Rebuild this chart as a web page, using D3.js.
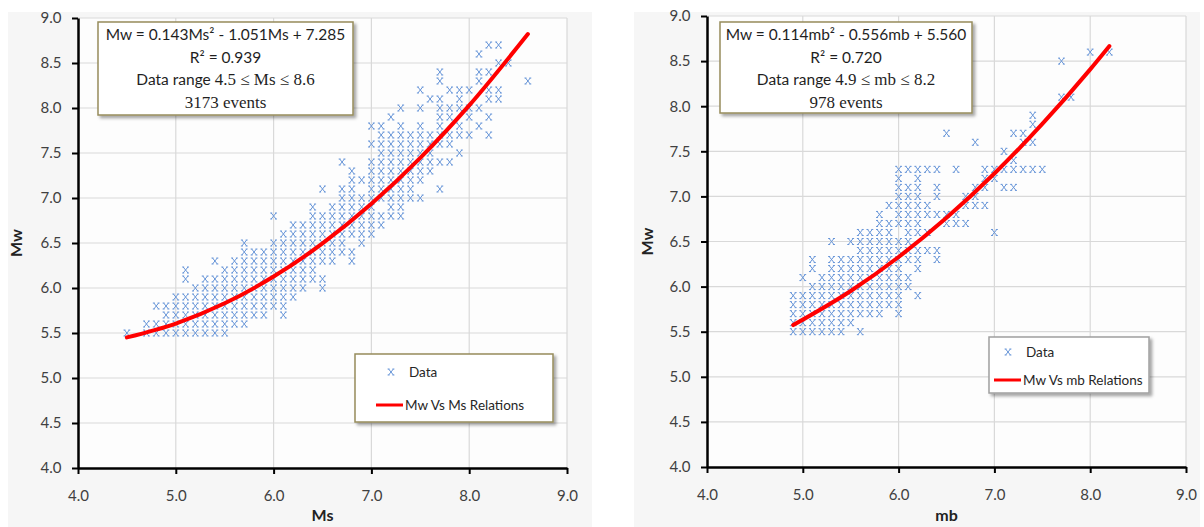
<!DOCTYPE html>
<html>
<head>
<meta charset="utf-8">
<script src="https://cdn.jsdelivr.net/npm/d3@7/dist/d3.min.js"></script>
<style>
  body { margin: 0; background: #fff; }
  svg text { font-family: Lato, "Noto Sans", sans-serif; }
</style>
</head>
<body>
<svg id="chart" width="1204" height="527"></svg>
<script>
// tick labels shared by both panels
var xTicks = [4.0, 5.0, 6.0, 7.0, 8.0, 9.0];
var yTicks = [4.0, 4.5, 5.0, 5.5, 6.0, 6.5, 7.0, 7.5, 8.0, 8.5, 9.0];

// Mw vs Ms data: each row is [Mw, list of Ms values plotted at that Mw]
var msRows = [
  [5.5, [4.5, 4.7, 4.8, 4.9, 5.0, 5.1, 5.2, 5.3, 5.4, 5.5]],
  [5.6, [4.7, 4.8, 4.9, 5.0, 5.1, 5.2, 5.3, 5.4, 5.5, 5.6, 5.7]],
  [5.7, [4.9, 5.0, 5.1, 5.2, 5.3, 5.4, 5.5, 5.6, 5.7, 5.8, 5.9, 6.1]],
  [5.8, [4.8, 4.9, 5.0, 5.1, 5.2, 5.3, 5.4, 5.5, 5.6, 5.7, 5.8, 5.9, 6.0, 6.1]],
  [5.9, [5.0, 5.1, 5.2, 5.3, 5.4, 5.5, 5.6, 5.7, 5.8, 5.9, 6.0, 6.1, 6.2]],
  [6.0, [5.2, 5.3, 5.4, 5.5, 5.6, 5.7, 5.8, 5.9, 6.0, 6.1, 6.2, 6.3, 6.5]],
  [6.1, [5.1, 5.3, 5.4, 5.5, 5.6, 5.7, 5.8, 5.9, 6.0, 6.1, 6.2, 6.3, 6.4, 6.5]],
  [6.2, [5.1, 5.5, 5.6, 5.7, 5.8, 5.9, 6.0, 6.1, 6.2, 6.3, 6.4]],
  [6.3, [5.4, 5.6, 5.7, 5.8, 5.9, 6.0, 6.1, 6.2, 6.3, 6.4, 6.5, 6.6, 6.8]],
  [6.4, [5.7, 5.8, 5.9, 6.0, 6.1, 6.2, 6.3, 6.4, 6.5, 6.6, 6.7, 6.8]],
  [6.5, [5.7, 6.0, 6.1, 6.2, 6.3, 6.4, 6.5, 6.6, 6.7, 6.9]],
  [6.6, [6.1, 6.2, 6.3, 6.4, 6.5, 6.6, 6.7, 6.8, 6.9, 7.0]],
  [6.7, [6.2, 6.3, 6.4, 6.5, 6.6, 6.7, 6.8, 6.9, 7.0, 7.1]],
  [6.8, [6.0, 6.4, 6.5, 6.6, 6.7, 6.8, 6.9, 7.0, 7.1, 7.2, 7.3]],
  [6.9, [6.4, 6.6, 6.7, 6.8, 6.9, 7.0, 7.2, 7.3]],
  [7.0, [6.7, 6.8, 6.9, 7.0, 7.1, 7.2, 7.3, 7.4, 7.5]],
  [7.1, [6.5, 6.7, 6.8, 7.0, 7.1, 7.2, 7.3, 7.4, 7.7]],
  [7.2, [6.8, 6.9, 7.0, 7.1, 7.2, 7.3, 7.4, 7.5]],
  [7.3, [6.8, 7.0, 7.1, 7.2, 7.3, 7.4, 7.5, 7.6]],
  [7.4, [6.7, 7.0, 7.1, 7.2, 7.3, 7.4, 7.5, 7.6, 7.7, 7.8]],
  [7.5, [7.1, 7.2, 7.3, 7.4, 7.5, 7.6, 7.9]],
  [7.6, [7.0, 7.1, 7.2, 7.3, 7.4, 7.5, 7.6, 7.7, 7.8]],
  [7.7, [7.1, 7.2, 7.3, 7.4, 7.5, 7.6, 7.7, 7.8, 7.9, 8.0, 8.2]],
  [7.8, [7.0, 7.1, 7.3, 7.5, 7.7, 7.9, 8.1]],
  [7.9, [7.2, 7.7, 7.8, 8.0, 8.2]],
  [8.0, [7.3, 7.5, 7.7, 7.8, 7.9, 8.0, 8.1]],
  [8.1, [7.6, 7.7, 7.9, 8.2, 8.3]],
  [8.2, [7.5, 7.8, 7.9, 8.0, 8.2, 8.3]],
  [8.3, [7.7, 8.1, 8.6]],
  [8.4, [7.7, 8.1, 8.2]],
  [8.5, [8.3, 8.4]],
  [8.6, [8.1]],
  [8.7, [8.2, 8.3]]
];

// Mw vs mb data: each row is [Mw, list of mb values]
var mbRows = [
  [5.5, [4.9, 5.0, 5.1, 5.2, 5.3, 5.4, 5.6]],
  [5.6, [4.9, 5.0, 5.1, 5.2, 5.3, 5.4, 5.5]],
  [5.7, [4.9, 5.0, 5.1, 5.2, 5.3, 5.4, 5.5, 5.6, 5.7, 5.8, 6.0]],
  [5.8, [4.9, 5.0, 5.1, 5.2, 5.3, 5.4, 5.5, 5.6, 5.7, 5.8, 5.9, 6.0]],
  [5.9, [4.9, 5.0, 5.1, 5.2, 5.3, 5.4, 5.5, 5.6, 5.7, 5.8, 5.9, 6.0, 6.2]],
  [6.0, [5.1, 5.2, 5.3, 5.4, 5.5, 5.6, 5.7, 5.8, 5.9, 6.0, 6.1]],
  [6.1, [5.0, 5.2, 5.3, 5.4, 5.5, 5.6, 5.7, 5.8, 5.9, 6.0, 6.1]],
  [6.2, [5.1, 5.3, 5.4, 5.5, 5.6, 5.7, 5.8, 5.9, 6.0, 6.2]],
  [6.3, [5.1, 5.3, 5.4, 5.5, 5.6, 5.7, 5.8, 5.9, 6.0, 6.1, 6.2, 6.4]],
  [6.4, [5.6, 5.7, 5.8, 5.9, 6.0, 6.1, 6.2, 6.3, 6.4]],
  [6.5, [5.3, 5.5, 5.6, 5.7, 5.8, 5.9, 6.0, 6.1]],
  [6.6, [5.6, 5.7, 5.8, 5.9, 6.1, 6.2, 6.3, 7.0]],
  [6.7, [5.8, 5.9, 6.0, 6.1, 6.2, 6.5, 6.6, 6.7]],
  [6.8, [5.8, 6.0, 6.1, 6.2, 6.3, 6.4, 6.5, 6.6]],
  [6.9, [5.9, 6.0, 6.1, 6.2, 6.3, 6.7, 6.8, 6.9]],
  [7.0, [6.0, 6.1, 6.2, 6.4, 6.7, 6.8]],
  [7.1, [6.0, 6.1, 6.2, 6.4, 6.8, 6.9, 7.1, 7.2]],
  [7.2, [6.0, 6.2, 6.9, 7.0]],
  [7.3, [6.0, 6.1, 6.2, 6.3, 6.4, 6.6, 6.9, 7.0, 7.1, 7.2, 7.3, 7.4, 7.5]],
  [7.4, [7.2]],
  [7.5, [7.1]],
  [7.6, [6.8, 7.3, 7.4]],
  [7.7, [6.5, 7.2, 7.3]],
  [7.8, [7.4]],
  [7.9, [7.4]],
  [8.1, [7.7, 7.8]],
  [8.5, [7.7]],
  [8.6, [8.0, 8.2]]
];

// fitted relation curves: [x, Mw]
var msCurve = [[4.5, 5.451], [5.0, 5.605], [5.5, 5.830], [6.0, 6.127], [6.5, 6.495],
               [7.0, 6.935], [7.5, 7.446], [8.0, 8.029], [8.6, 8.822]];
var mbCurve = [[4.9, 5.573], [5.5, 5.951], [6.0, 6.328], [6.5, 6.763], [7.0, 7.254],
               [7.5, 7.803], [8.0, 8.408], [8.2, 8.666]];

var msBoxLines = ["Mw = 0.143Ms² - 1.051Ms + 7.285", "R² = 0.939", ["Data range ", "4.5 ≤ Ms ≤ 8.6"], "3173 events"];
var mbBoxLines = ["Mw = 0.114mb² - 0.556mb + 5.560", "R² = 0.720", ["Data range ", "4.9 ≤ mb ≤ 8.2"], "978 events"];

var svg = d3.select("#chart");

var defs = svg.append("defs");
var f = defs.append("filter").attr("id", "shadow").attr("x", "-10%").attr("y", "-10%")
  .attr("width", "130%").attr("height", "140%");
f.append("feDropShadow").attr("dx", 2.5).attr("dy", 2.5).attr("stdDeviation", 1.5)
  .attr("flood-color", "#000").attr("flood-opacity", 0.35);

// serif "x" marker, like excel's x marker
var markerPath = "M-2.4,-3L2.4,3M2.4,-3L-2.4,3" +
  "M-3.4,-3H-1.4M1.4,-3H3.4M-3.4,3H-1.4M1.4,3H3.4";
var markerColor = "#6795d8";

function panel(o) {
  var g = svg.append("g");

  // chart area background
  g.append("rect").attr("x", o.area[0]).attr("y", o.area[1])
    .attr("width", o.area[2]).attr("height", o.area[3]).attr("fill", "#f6f6f6");

  var x = d3.scaleLinear().domain([4, 9]).range([o.x0, o.x1]);
  var y = d3.scaleLinear().domain([4, 9]).range([o.y0, o.y1]);

  g.append("rect").attr("x", o.x0).attr("y", o.y1)
    .attr("width", o.x1 - o.x0).attr("height", o.y0 - o.y1).attr("fill", "#fdfdfd");

  // grid
  g.append("g").selectAll("line").data(yTicks.slice(1)).join("line")
    .attr("x1", o.x0).attr("x2", o.x1).attr("y1", d => y(d)).attr("y2", d => y(d))
    .attr("stroke", "#d9d9d9").attr("stroke-width", 1.2);
  g.append("g").selectAll("line").data(xTicks.slice(1)).join("line")
    .attr("y1", o.y0).attr("y2", o.y1).attr("x1", d => x(d)).attr("x2", d => x(d))
    .attr("stroke", "#d9d9d9").attr("stroke-width", 1.2);

  // points
  var pts = [];
  o.rows.forEach(function(r) {
    r[1].forEach(function(v) { pts.push([v, r[0]]); });
  });
  g.append("g").selectAll("path").data(pts).join("path")
    .attr("d", markerPath)
    .attr("transform", d => "translate(" + x(d[0]) + "," + y(d[1]) + ")")
    .attr("fill", "none").attr("stroke", markerColor).attr("stroke-width", 1);

  // fitted curve
  g.append("path").datum(o.curve)
    .attr("d", d3.line().x(d => x(d[0])).y(d => y(d[1])).curve(d3.curveMonotoneX))
    .attr("fill", "none").attr("stroke", "#ff0000").attr("stroke-width", 4)
    .attr("stroke-linecap", "round");

  // axes
  var ax = g.append("g").attr("transform", "translate(0," + o.y0 + ")")
    .call(d3.axisBottom(x).tickValues(xTicks).tickFormat(d3.format(".1f")).tickSize(6).tickSizeOuter(0));
  var ay = g.append("g").attr("transform", "translate(" + o.x0 + ",0)")
    .call(d3.axisLeft(y).tickValues(yTicks).tickFormat(d3.format(".1f")).tickSize(6).tickSizeOuter(0));
  [ax, ay].forEach(function(a) {
    a.select(".domain").attr("stroke", "#000").attr("stroke-width", 2.5);
    a.selectAll(".tick line").attr("stroke", "#000").attr("stroke-width", 2);
    a.selectAll(".tick text").attr("fill", "#404040").style("font-size", "15px");
  });
  ax.selectAll(".tick text").attr("dy", "1.6em");
  ay.selectAll(".tick text").attr("dx", "-0.5em");

  g.append("text").attr("x", (o.x0 + o.x1) / 2).attr("y", 521).attr("text-anchor", "middle")
    .style("font-size", "16px").style("font-weight", "bold").attr("fill", "#222").text(o.xTitle);
  g.append("text").attr("transform", "translate(" + o.yTitleX + "," + y(6.5) + ") rotate(-90)")
    .attr("text-anchor", "middle").style("font-size", "16px").style("font-weight", "bold")
    .attr("fill", "#222").text("Mw");

  // equation box
  var b = o.box;
  g.append("rect").attr("x", b[0]).attr("y", b[1]).attr("width", b[2]).attr("height", b[3])
    .attr("fill", "#fff").attr("stroke", "#968c5c").attr("stroke-width", 1.5)
    .attr("filter", "url(#shadow)");
  var cx = b[0] + b[2] / 2;
  o.lines.forEach(function(l, i) {
    var t = g.append("text").attr("x", cx).attr("y", b[1] + 18 + i * 22.5)
      .attr("text-anchor", "middle").attr("fill", "#1f1f1f").style("font-size", "15.5px");
    if (i == 2) {
      t.append("tspan").text(l[0]);
      t.append("tspan").style("font-family", "'Liberation Serif', serif").style("font-size", "17px").text(l[1]);
    } else if (i == 3) {
      t.style("font-family", "'Liberation Serif', serif").style("font-size", "17px").text(l);
    } else {
      t.text(l);
    }
  });

  // legend
  var L = o.legend;
  g.append("rect").attr("x", L[0]).attr("y", L[1]).attr("width", L[2]).attr("height", L[3])
    .attr("fill", "#fff").attr("stroke", o.legendStroke).attr("stroke-width", 1.5)
    .attr("filter", "url(#shadow)");
  g.append("path").attr("d", markerPath)
    .attr("transform", "translate(" + o.legMark[0] + "," + o.legMark[1] + ")")
    .attr("fill", "none").attr("stroke", markerColor).attr("stroke-width", 1);
  g.append("text").attr("x", o.legMark[0] + 18).attr("y", o.legMark[1] + 5)
    .style("font-size", "13.5px").attr("fill", "#262626").text("Data");
  g.append("line").attr("x1", o.legLine[0]).attr("x2", o.legLine[0] + 27)
    .attr("y1", o.legLine[1]).attr("y2", o.legLine[1])
    .attr("stroke", "#ff0000").attr("stroke-width", 3);
  g.append("text").attr("x", o.legLine[0] + 29).attr("y", o.legLine[1] + 5)
    .style("font-size", "13.5px").attr("fill", "#262626").text(o.legText);
}

panel({
  area: [8, 12, 584, 515], x0: 78, x1: 567, y0: 468, y1: 18,
  rows: msRows, curve: msCurve, xTitle: "Ms", yTitleX: 22,
  box: [98, 22, 255, 93], lines: msBoxLines,
  legend: [355, 354, 198, 68], legendStroke: "#968c5c",
  legMark: [391, 372], legLine: [376, 405], legText: "Mw Vs Ms Relations"
});

panel({
  area: [634, 12, 566, 515], x0: 707, x1: 1186, y0: 467, y1: 16,
  rows: mbRows, curve: mbCurve, xTitle: "mb", yTitleX: 653,
  box: [720, 22, 252, 91], lines: mbBoxLines,
  legend: [989, 337, 160, 56], legendStroke: "#a0a0a0",
  legMark: [1008, 352], legLine: [994, 380], legText: "Mw Vs mb Relations"
});
</script>
</body>
</html>
